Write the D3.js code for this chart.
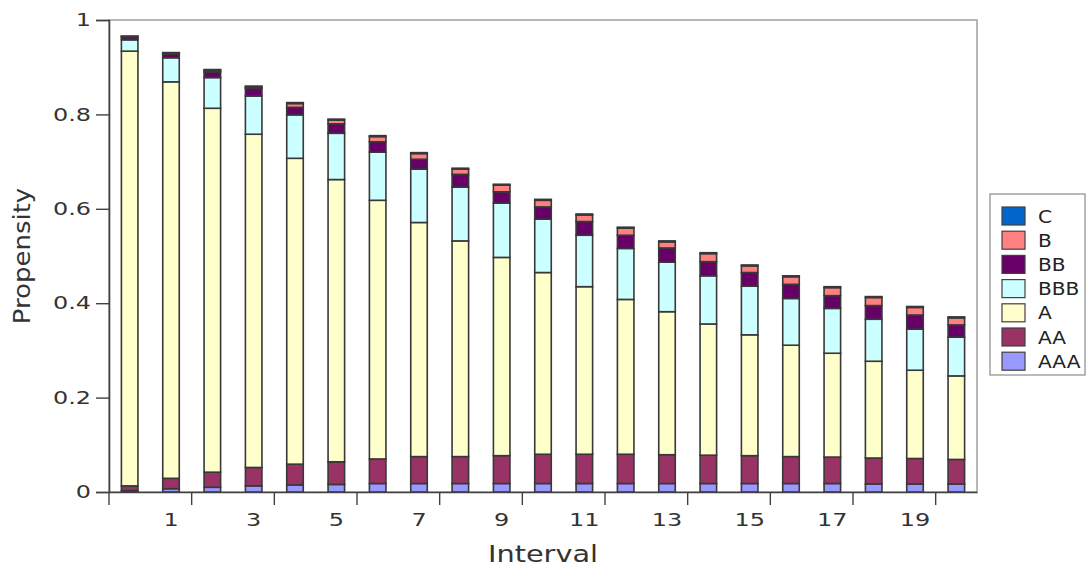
<!DOCTYPE html>
<html>
<head>
<meta charset="utf-8">
<script src="https://cdn.jsdelivr.net/npm/d3@7"></script>
<style>
  html, body { margin: 0; padding: 0; background: #fff; }
  svg { display: block; font-family: "DejaVu Sans", Verdana, sans-serif; }
</style>
</head>
<body>
<svg id="chart" width="1088" height="570"></svg>
<script>
// Rating classes, bottom of the stack first
const ratings = ["AAA", "AA", "A", "BBB", "BB", "B", "C"];
const intervals = d3.range(0, 21);

// Propensity share per rating for each interval
const AAA = [0.003, 0.007, 0.010, 0.013, 0.015, 0.016, 0.018, 0.018, 0.018, 0.018, 0.018,
             0.018, 0.018, 0.018, 0.018, 0.018, 0.018, 0.018, 0.017, 0.017, 0.017];
const AA  = [0.010, 0.022, 0.032, 0.039, 0.044, 0.048, 0.052, 0.057, 0.057, 0.059, 0.062,
             0.062, 0.062, 0.061, 0.060, 0.059, 0.057, 0.056, 0.055, 0.054, 0.052];
const A   = [0.921, 0.840, 0.771, 0.706, 0.648, 0.598, 0.548, 0.496, 0.457, 0.420, 0.385,
             0.355, 0.328, 0.303, 0.278, 0.256, 0.236, 0.220, 0.205, 0.187, 0.177];
const BBB = [0.024, 0.051, 0.065, 0.081, 0.092, 0.098, 0.102, 0.113, 0.114, 0.115, 0.113,
             0.109, 0.108, 0.105, 0.102, 0.103, 0.099, 0.095, 0.089, 0.087, 0.082];
const BB  = [0.005, 0.008, 0.012, 0.016, 0.016, 0.020, 0.022, 0.021, 0.027, 0.024, 0.026,
             0.029, 0.028, 0.030, 0.030, 0.029, 0.030, 0.027, 0.029, 0.030, 0.026];
const B   = [0.002, 0.001, 0.003, 0.003, 0.008, 0.008, 0.011, 0.012, 0.011, 0.014, 0.014,
             0.014, 0.015, 0.013, 0.017, 0.014, 0.016, 0.017, 0.017, 0.016, 0.015];
const C   = [0.001, 0.002, 0.002, 0.002, 0.002, 0.002, 0.002, 0.002, 0.002, 0.002, 0.002,
             0.002, 0.002, 0.002, 0.002, 0.002, 0.002, 0.002, 0.002, 0.002, 0.002];

const yTicks = [0, 0.2, 0.4, 0.6, 0.8, 1];
const xLabelValues = [1, 3, 5, 7, 9, 11, 13, 15, 17, 19];
const xTickEdges = [0, 2, 4, 6, 8, 10, 12, 14, 16, 18, 20];

const colors = {
  AAA: "#9999ff", AA: "#993366", A: "#ffffcc", BBB: "#ccffff",
  BB: "#660066", B: "#ff8080", C: "#0066cc"
};

const seriesValues = { AAA, AA, A, BBB, BB, B, C };
const rows = intervals.map((t, i) => {
  const r = { interval: t };
  ratings.forEach(k => { r[k] = seriesValues[k][i]; });
  return r;
});

const svg = d3.select("#chart");
const plot = { left: 109, right: 977, top: 20, bottom: 492 };

const x = d3.scaleBand().domain(intervals).range([plot.left, plot.right]).padding(0);
const y = d3.scaleLinear().domain([0, 1]).range([plot.bottom, plot.top]);

// widen glyphs horizontally by a factor
function widen(sel, factor) {
  sel.each(function () {
    const w = this.getComputedTextLength();
    this.setAttribute("textLength", (w * factor).toFixed(1));
    this.setAttribute("lengthAdjust", "spacingAndGlyphs");
  });
}

// plot frame (top / right)
svg.append("rect")
  .attr("x", plot.left).attr("y", plot.top)
  .attr("width", plot.right - plot.left).attr("height", plot.bottom - plot.top)
  .attr("fill", "none").attr("stroke", "#a0a0a0").attr("stroke-width", 1.5);

// stacked bars
const stack = d3.stack().keys(ratings);
const layers = stack(rows);
const barW = x.bandwidth() * 0.4;

svg.append("g").selectAll("g")
  .data(layers)
  .join("g")
  .attr("fill", d => colors[d.key])
  .selectAll("rect")
  .data(d => d)
  .join("rect")
  .attr("x", d => x(d.data.interval) + (x.bandwidth() - barW) / 2)
  .attr("y", d => y(d[1]))
  .attr("width", barW)
  .attr("height", d => y(d[0]) - y(d[1]))
  .attr("stroke", "#383838")
  .attr("stroke-width", 1.6);

// y axis
const yAxis = svg.append("g")
  .attr("transform", `translate(${plot.left},0)`)
  .call(d3.axisLeft(y).tickValues(yTicks).tickSize(13).tickPadding(5)
    .tickFormat(d => (d === 0 || d === 1) ? String(d) : d3.format(".1f")(d)));
yAxis.select(".domain").attr("stroke", "#404040").attr("stroke-width", 1.6);
yAxis.selectAll(".tick line").attr("stroke", "#404040").attr("stroke-width", 1.4);
yAxis.selectAll(".tick text").attr("font-size", 18).attr("fill", "#333")
  .attr("font-family", "DejaVu Sans");
widen(yAxis.selectAll(".tick text"), 1.33);

// x axis: labels centred on odd intervals, ticks at band edges of even ones
const xAxis = svg.append("g")
  .attr("transform", `translate(0,${plot.bottom})`)
  .call(d3.axisBottom(x).tickValues(xLabelValues).tickSize(0).tickPadding(21));
xAxis.select(".domain").attr("stroke", "#404040").attr("stroke-width", 1.6);
xAxis.selectAll(".tick text").attr("font-size", 18).attr("fill", "#333")
  .attr("font-family", "DejaVu Sans");
widen(xAxis.selectAll(".tick text"), 1.33);
xAxis.selectAll("line.edge")
  .data(xTickEdges)
  .join("line")
  .attr("class", "edge")
  .attr("x1", d => x(d)).attr("x2", d => x(d))
  .attr("y1", 0).attr("y2", 13)
  .attr("stroke", "#404040").attr("stroke-width", 1.4);

// axis titles
const xTitle = svg.append("text")
  .attr("x", (plot.left + plot.right) / 2 - 0).attr("y", 562)
  .attr("text-anchor", "middle")
  .attr("font-size", 23).attr("fill", "#333")
  .text("Interval");
widen(xTitle, 1.25);

const yTitle = svg.append("text")
  .attr("transform", `translate(30,${(plot.top + plot.bottom) / 2}) rotate(-90)`)
  .attr("text-anchor", "middle")
  .attr("font-size", 23).attr("fill", "#333")
  .text("Propensity");
widen(yTitle, 1.13);

// legend
const legend = svg.append("g").attr("transform", "translate(990,194)");
legend.append("rect")
  .attr("x", 0).attr("y", 0).attr("width", 95).attr("height", 181)
  .attr("fill", "#fff").attr("stroke", "#8a8a8a").attr("stroke-width", 1.2);

const legendKeys = ratings.slice().reverse();
const item = legend.selectAll("g.item")
  .data(legendKeys)
  .join("g")
  .attr("class", "item")
  .attr("transform", (d, i) => `translate(12,${13 + i * 24.2})`);
item.append("rect")
  .attr("width", 23).attr("height", 18)
  .attr("fill", d => colors[d])
  .attr("stroke", "#404040").attr("stroke-width", 1.2);
const legendText = item.append("text")
  .attr("x", 36).attr("y", 15.5)
  .attr("font-size", 17.5).attr("fill", "#222")
  .text(d => d);
widen(legendText, 1.15);
</script>
</body>
</html>
